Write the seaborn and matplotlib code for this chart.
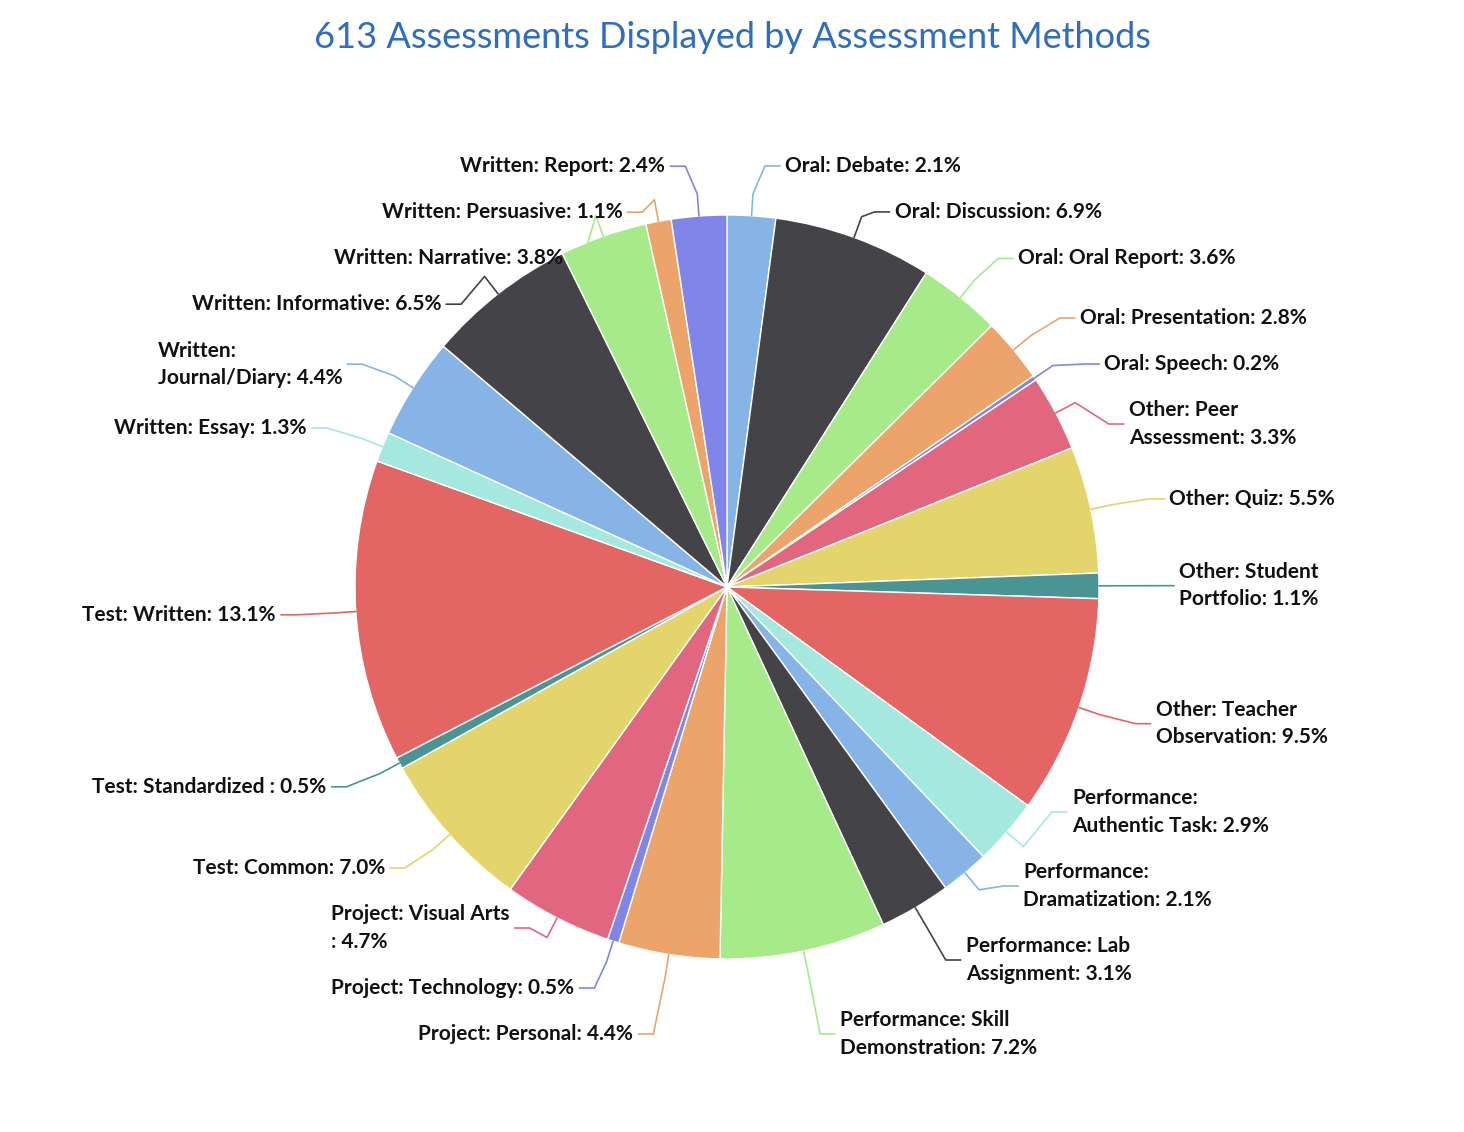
import numpy as np
import seaborn as sns
from matplotlib import pyplot as plt

labels = [
    "Oral: Debate", "Oral: Discussion", "Oral: Oral Report", "Oral: Presentation",
    "Oral: Speech", "Other: Peer\nAssessment", "Other: Quiz", "Other: Student\nPortfolio",
    "Other: Teacher\nObservation", "Performance:\nAuthentic Task", "Performance:\nDramatization",
    "Performance: Lab\nAssignment", "Performance: Skill\nDemonstration", "Project: Personal",
    "Project: Technology", "Project: Visual Arts\n", "Test: Common", "Test: Standardized ",
    "Test: Written", "Written: Essay", "Written:\nJournal/Diary", "Written: Informative",
    "Written: Narrative", "Written: Persuasive", "Written: Report",
]
shares = [2.1, 6.9, 3.6, 2.8, 0.2, 3.3, 5.5, 1.1, 9.5, 2.9, 2.1, 3.1, 7.2, 4.4,
          0.5, 4.7, 7.0, 0.5, 13.1, 1.3, 4.4, 6.5, 3.8, 1.1, 2.4]
palette = ["#87b4e7", "#434348", "#a6ea8a", "#eca46a", "#8085e9",
           "#e0677f", "#e3d46b", "#4b9494", "#e46664", "#a5e8e0"]

sns.set_theme(style="white", font="Lato")
W, H = 1464, 1132
fig = plt.figure(figsize=(W / 100, H / 100), dpi=100)
ax = fig.add_axes([0, 0, 1, 1])

cx, cy, r = 727, 587, 372
colors = [palette[i % len(palette)] for i in range(len(shares))]
# pie drawn in a y-down axis: counterclock=True looks clockwise on screen
ax.pie(shares, colors=colors, center=(cx, cy), radius=r, startangle=-90,
       counterclock=True, wedgeprops=dict(edgecolor="white", linewidth=1),
       frame=True)
ax.set_xlim(0, W)
ax.set_ylim(H, 0)
ax.set_aspect("equal")
ax.axis("off")

texts = [f"{l}: {s}%" for l, s in zip(labels, shares)]
cum = np.cumsum([0] + shares[:-1])
mids = (cum + np.array(shares) / 2) / 100 * 2 * np.pi
items = []
for i, th in enumerate(mids):
    nl = texts[i].count("\n") + 1
    h = nl * 28 + 18
    y = cy - (r + 50) * np.cos(th)
    items.append(dict(i=i, th=th, y=y, h=h, right=np.sin(th) >= 0))

ybot = cy + 447
for side in (True, False):
    grp = sorted([it for it in items if it["right"] == side], key=lambda d: d["y"])
    for a, b in zip(grp, grp[1:]):
        gap = (a["h"] + b["h"]) / 2
        if b["y"] - a["y"] < gap:
            b["y"] = a["y"] + gap
    grp[-1]["y"] = min(grp[-1]["y"], ybot)
    for b, a in zip(reversed(grp), list(reversed(grp))[1:]):
        gap = (a["h"] + b["h"]) / 2
        if b["y"] - a["y"] < gap:
            a["y"] = b["y"] - gap

for it in items:
    th, y, i = it["th"], it["y"], it["i"]
    ex, ey = cx + r * np.sin(th), cy - r * np.cos(th)
    kx, ky = cx + (r + 22) * np.sin(th), cy - (r + 22) * np.cos(th)
    lx = cx + (r + 60) * np.sin(th)
    if it["right"]:
        lx = max(lx, kx + 12)
        tx, ha = lx + 20, "left"
    else:
        lx = min(lx, kx - 12)
        tx, ha = lx - 20, "right"
    ax.plot([ex, kx, lx, tx - (5 if ha == "left" else -5)], [ey, ky, y, y],
            color=colors[i], lw=1.2, solid_capstyle="round")
    ax.text(tx, y, texts[i], ha=ha, va="center", multialignment="left",
            fontsize=15, fontweight="bold", color="#111111", linespacing=1.45)

fig.text(0.5, 1 - 38 / H, "613 Assessments Displayed by Assessment Methods",
         ha="center", va="center", fontsize=26, color="#2f6cc3")
fig.savefig("out.png", dpi=100, facecolor="white")
